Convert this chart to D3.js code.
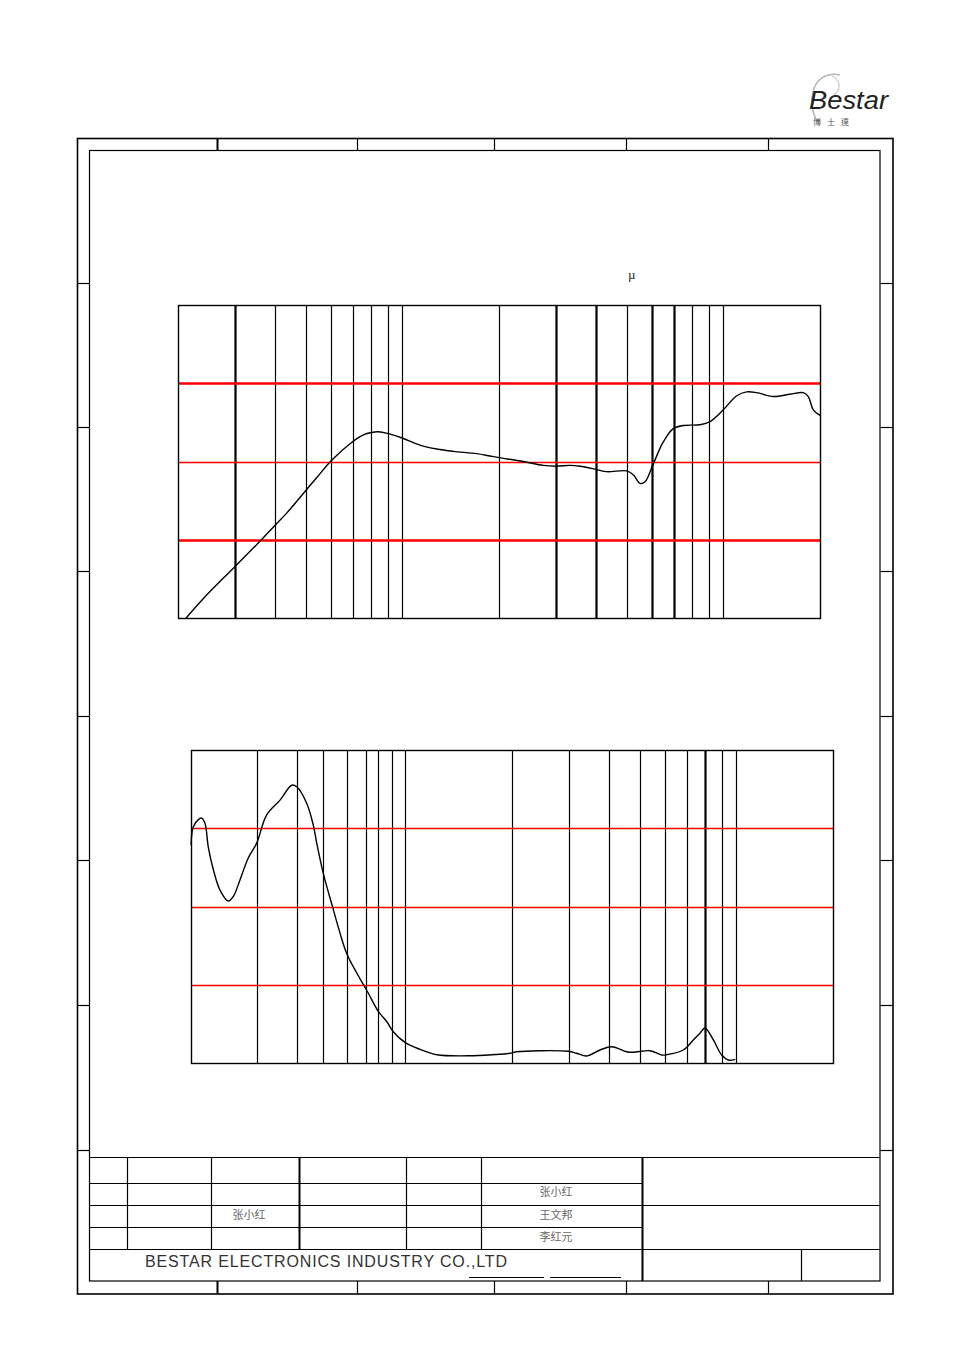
<!DOCTYPE html>
<html><head><meta charset="utf-8">
<script src="https://cdn.jsdelivr.net/npm/d3@7"></script>
<style>body{margin:0;background:#fff}svg{display:block}</style>
</head><body>
<svg id="c" width="954" height="1351"></svg>
<script>
// ---------- data ----------
const freqDomain = [100, 10000];
const topGrid = [150,200,250,300,350,400,450,500,1000,1500,2000,2500,3000,3500,4000,4500,5000];
const topGridBold = [150,1500,2000,3000,3500];
const bottomGrid = [160,214,258,307,352,383,424,465,1000,1500,2000,2500,3000,3500,4000,4500,5000];
const bottomGridBold = [4000];

const splDomain = [60, 100];
const splTicks = [70, 80, 90];
const splTicksBold = [70, 90];
const thdDomain = [0, 40];
const thdTicks = [10, 20, 30];

const splFreq  = [106,120,149,180,200,218,249,270,300,349,378,400,421,449,499,567,640,720,852,937,1000,1190,1374,1505,1664,1788,2005,2165,2500,2620,2750,2850,3018,3249,3491,3752,4229,4544,4997,5501,5910,6350,7154,8065,8872,9195,9530,10000];
const splValue = [60.0,62.5,66.4,69.8,71.8,73.4,76.2,77.9,80.1,82.5,83.4,83.7,83.8,83.6,83.0,82.1,81.6,81.3,81.0,80.7,80.5,80.0,79.5,79.4,79.5,79.4,79.0,78.7,78.8,78.3,77.2,77.4,79.6,82.5,84.2,84.6,84.7,85.1,86.6,88.4,88.9,88.8,88.3,88.6,88.8,88.3,86.6,85.9];

const thdFreq  = [100,101.7,105.4,108,110.6,113.2,117.4,123.1,130.7,135.5,142.1,150.8,160.2,172.1,189.4,206,213.5,229.3,240.4,246.4,258.4,277.6,291.2,305.5,328.3,352.7,383.3,407,426.8,465.2,517,583,757,917,986,1034,1223,1497,1590,1709,1880,2045,2277,2387,2692,2927,3033,3418,3672,3852,3993,4239,4501,4719,4961];
const thdValue = [27.9,30.2,31.1,31.3,30.6,27.6,24.7,22.1,20.7,21.3,23.4,26.2,28.1,31.7,33.6,35.5,35.3,33.2,30.4,28.1,24.2,19.6,16.6,14.0,11.5,9.3,6.6,5.3,4.0,2.6,1.75,1.06,0.93,1.11,1.24,1.44,1.57,1.50,1.24,0.89,1.66,2.08,1.44,1.37,1.57,1.02,1.06,1.66,2.94,3.80,4.47,2.94,1.02,0.38,0.47];

const frameTopDividers = [217,357,494,626,768];
const frameSideTicks = [283,427,571,716,860,1005,1150];
const names = [
  {t:"张小红", x:556, y:1196},
  {t:"张小红", x:249, y:1219},
  {t:"王文邦", x:556, y:1219},
  {t:"李红元", x:556, y:1241}
];
const company = "BESTAR ELECTRONICS INDUSTRY CO.,LTD";

// ---------- drawing ----------
const svg = d3.select("#c");
svg.append("rect").attr("width",954).attr("height",1351).attr("fill","#fff");

function line(g,x1,y1,x2,y2,w,c){
  g.append("line").attr("x1",x1).attr("y1",y1).attr("x2",x2).attr("y2",y2)
   .attr("stroke",c||"#000").attr("stroke-width",w||1);
}

// drawing frame
const fr = svg.append("g");
fr.append("rect").attr("x",77.5).attr("y",138.5).attr("width",815.5).attr("height",1155.5)
  .attr("fill","none").attr("stroke","#000").attr("stroke-width",1.6);
fr.append("rect").attr("x",89.5).attr("y",150.5).attr("width",790.5).attr("height",1130.5)
  .attr("fill","none").attr("stroke","#000").attr("stroke-width",1.2);
frameTopDividers.forEach((x,i)=>{
  line(fr,x+0.5,138,x+0.5,150,i===0?2:1.2);
  line(fr,x+0.5,1281,x+0.5,1294,i===0?2:1.2);
});
frameSideTicks.forEach(y=>{
  line(fr,77,y+0.5,89,y+0.5,1.2);
  line(fr,880,y+0.5,893,y+0.5,1.2);
});

// title block
const tb = svg.append("g");
line(tb,89,1157.5,880,1157.5,1.2);
[1183.5,1205.5,1227.5].forEach(y=>line(tb,89,y,642,y,1.2));
line(tb,89,1249.5,880,1249.5,1.2);
line(tb,642,1205.5,880,1205.5,1.2);
[[127.5,1.2],[211.5,1.2],[299.5,2],[406.5,1.2],[481.5,1.2]].forEach(([x,w])=>line(tb,x,1157,x,1249,w));
line(tb,642.5,1157,642.5,1281,2);
line(tb,801.5,1249,801.5,1281,1.2);
line(tb,469,1277.5,544,1277.5,1);
line(tb,550,1277.5,621,1277.5,1);
names.forEach(n=>tb.append("text").attr("x",n.x).attr("y",n.y).attr("text-anchor","middle")
  .attr("font-family","Noto Sans CJK SC").attr("font-size",11).attr("fill","#666").text(n.t));
tb.append("text").attr("x",145).attr("y",1267).attr("font-family","Liberation Sans Narrow, Liberation Sans")
  .attr("font-size",16).attr("fill","#333").attr("textLength",362).attr("lengthAdjust","spacing")
  .text(company);

// logo
const lg = svg.append("g");
lg.append("path").attr("d","M840,75 C828,72 816,78 813,92 C810,106 814,118 820,125")
  .attr("fill","none").attr("stroke","#b5b5b5").attr("stroke-width",1.6);
lg.append("path").attr("d","M832,76 C840,80 842,88 834,95")
  .attr("fill","none").attr("stroke","#c8c8c8").attr("stroke-width",1.2);
lg.append("text").attr("x",809).attr("y",109).attr("font-family","Liberation Sans")
  .attr("font-style","italic").attr("font-size",25).attr("fill","#222")
  .attr("textLength",79).attr("lengthAdjust","spacingAndGlyphs").text("Bestar");
lg.append("text").attr("x",813).attr("y",125).attr("font-family","Noto Sans CJK TC")
  .attr("font-size",8).attr("fill","#555").attr("letter-spacing",6).text("博士達");

svg.append("text").attr("x",628).attr("y",279).attr("font-family","Liberation Serif")
  .attr("font-size",13).attr("fill","#222").text("µ");

// chart helper
function chart(opt){
  const g = svg.append("g");
  const x = d3.scaleLog().domain(freqDomain).range([opt.x0,opt.x1]);
  const y = d3.scaleLinear().domain(opt.yDomain).range([opt.y1,opt.y0]);
  g.selectAll(".vg").data(opt.grid).enter().append("line")
    .attr("x1",d=>Math.round(x(d))+0.5).attr("x2",d=>Math.round(x(d))+0.5)
    .attr("y1",opt.y0).attr("y2",opt.y1)
    .attr("stroke","#000").attr("stroke-width",d=>opt.gridBold.includes(d)?2.2:1.2);
  g.selectAll(".hg").data(opt.yTicks).enter().append("line")
    .attr("x1",opt.x0).attr("x2",opt.x1)
    .attr("y1",d=>Math.round(y(d))+0.5).attr("y2",d=>Math.round(y(d))+0.5)
    .attr("stroke","#ff0000").attr("stroke-width",d=>opt.yBold.includes(d)?2.6:1.6);
  g.append("rect").attr("x",opt.x0+0.5).attr("y",opt.y0+0.5)
    .attr("width",opt.x1-opt.x0).attr("height",opt.y1-opt.y0)
    .attr("fill","none").attr("stroke","#000").attr("stroke-width",1.4);
  const pts = opt.freq.map((f,i)=>({f, v:opt.val[i]}));
  g.append("path").datum(pts)
    .attr("d", d3.line().x(d=>x(d.f)).y(d=>y(d.v)).curve(d3.curveCatmullRom.alpha(0.5)))
    .attr("fill","none").attr("stroke","#000").attr("stroke-width",1.4);
}

chart({x0:178,x1:820,y0:305,y1:618,yDomain:splDomain,yTicks:splTicks,yBold:splTicksBold,
  grid:topGrid,gridBold:topGridBold,freq:splFreq,val:splValue});
chart({x0:191,x1:833,y0:750,y1:1063,yDomain:thdDomain,yTicks:thdTicks,yBold:[],
  grid:bottomGrid,gridBold:bottomGridBold,freq:thdFreq,val:thdValue});
</script>
</body></html>
